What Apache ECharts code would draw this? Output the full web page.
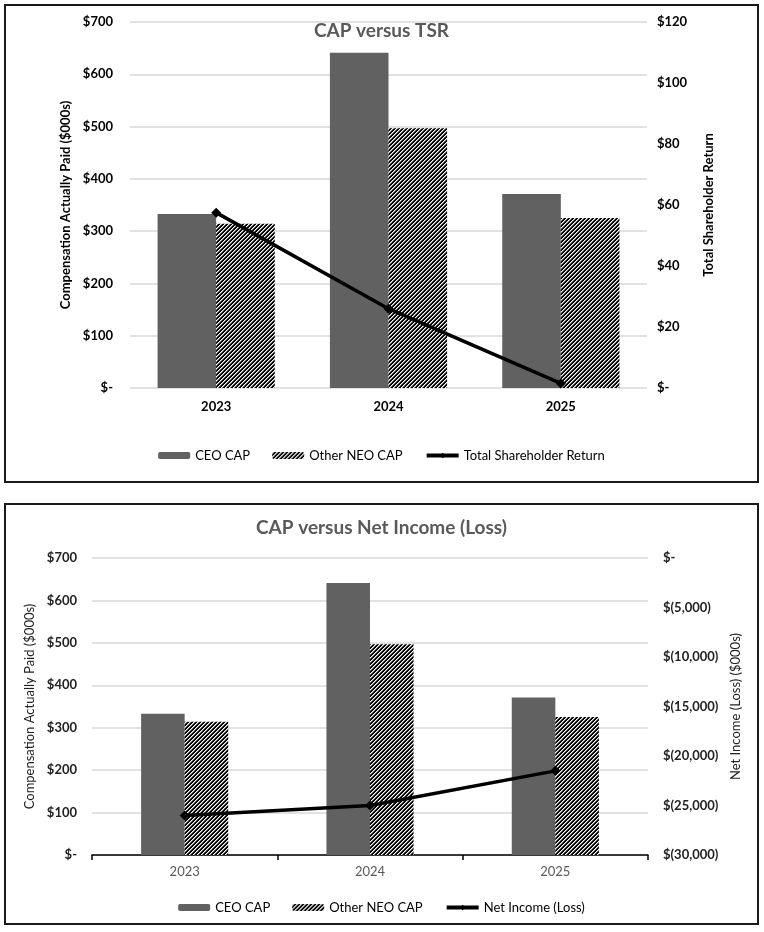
<!DOCTYPE html>
<html>
<head>
<meta charset="utf-8">
<script src="https://cdn.jsdelivr.net/npm/echarts@6/dist/echarts.min.js"></script>
<style>
  html, body { margin:0; padding:0; background:#fff; width:764px; height:932px; overflow:hidden; }
  .box { position:absolute; border:2px solid #1a1a1a; box-sizing:border-box; }
  .inner { position:absolute; left:0; top:0; right:0; bottom:0; }
</style>
</head>
<body>
<div class="box" style="left:4px; top:4px; width:755px; height:479px;"><div id="c1" class="inner"></div></div>
<div class="box" style="left:4px; top:503px; width:755px; height:422px;"><div id="c2" class="inner"></div></div>
<script>
// ---- data ----
const years = ['2023', '2024', '2025'];
const ceoCap = [333, 641, 371];
const otherNeoCap = [314, 497, 325];
const tsr = [57.5, 26, 1.5];
const netIncome = [-26000, -25000, -21500];
const capTicks = { min: 0, max: 700, interval: 100 };
const tsrTicks = { min: 0, max: 120, interval: 20 };
const niTicks = { min: -30000, max: 0, interval: 5000 };

const FONT = 'Lato, "Liberation Sans", sans-serif';

// hatch pattern
function makeHatch() {
  const c = document.createElement('canvas');
  c.width = 4; c.height = 4;
  const g = c.getContext('2d');
  g.fillStyle = '#ffffff'; g.fillRect(0, 0, 4, 4);
  for (let x = 0; x < 4; x++) for (let y = 0; y < 4; y++) {
    const k = (x + y) % 4;
    if (k === 2 || k === 3) { g.fillStyle = '#000000'; g.fillRect(x, y, 1, 1); }
    else if (k === 1) { g.fillStyle = '#8a8a8a'; g.fillRect(x, y, 1, 1); }
  }
  return c;
}
const hatch = { image: makeHatch(), repeat: 'repeat' };
const CEO_COLOR = '#616161';

function dollar(v) { return v === 0 ? '$-' : '$' + v; }
function paren(v) { return v === 0 ? '$-' : '$(' + Math.abs(v).toLocaleString('en-US') + ')'; }

// ---- chart 1 ----
const c1 = echarts.init(document.getElementById('c1'));
c1.setOption({
  animation: false,
  textStyle: { fontFamily: FONT },
  title: { text: 'CAP versus TSR', left: 'center', top: 15, padding: 0,
    textStyle: { fontFamily: FONT, fontSize: 19, fontWeight: 'bold', color: '#595959' } },
  grid: { left: 124, right: 110, top: 16, bottom: 93 },
  legend: { bottom: 14, left: 'center', itemWidth: 32, itemHeight: 7, itemGap: 22,
    textStyle: { fontFamily: FONT, fontSize: 13, color: '#000' },
    data: ['CEO CAP', 'Other NEO CAP',
      { name: 'Total Shareholder Return', lineStyle: { width: 4, color: '#000' } }] },
  xAxis: { type: 'category', data: years,
    axisLine: { show: false }, axisTick: { show: false },
    axisLabel: { margin: 12, fontFamily: FONT, fontSize: 13, fontWeight: 'bold', color: '#000' } },
  yAxis: [
    { type: 'value', min: capTicks.min, max: capTicks.max, interval: capTicks.interval,
      name: 'Compensation Actually Paid ($000s)', nameLocation: 'middle', nameGap: 52, nameRotate: 90,
      nameTextStyle: { fontFamily: FONT, fontSize: 13, fontWeight: 'bold', color: '#000' },
      axisLine: { show: false }, axisTick: { show: false },
      splitLine: { lineStyle: { color: '#d9d9d9', width: 1.5 } },
      axisLabel: { margin: 17, formatter: dollar, fontFamily: FONT, fontSize: 13, fontWeight: 'bold', color: '#000' } },
    { type: 'value', min: tsrTicks.min, max: tsrTicks.max, interval: tsrTicks.interval, position: 'right',
      name: 'Total Shareholder Return', nameLocation: 'middle', nameGap: 55, nameRotate: 90,
      nameTextStyle: { fontFamily: FONT, fontSize: 13, fontWeight: 'bold', color: '#000' },
      axisLine: { show: false }, axisTick: { show: false }, splitLine: { show: false },
      axisLabel: { margin: 10, formatter: dollar, fontFamily: FONT, fontSize: 13, fontWeight: 'bold', color: '#000' } }
  ],
  series: [
    { name: 'CEO CAP', type: 'bar', data: ceoCap, barGap: '0%', barCategoryGap: '32%',
      itemStyle: { color: CEO_COLOR } },
    { name: 'Other NEO CAP', type: 'bar', data: otherNeoCap, barGap: '0%', barCategoryGap: '32%',
      itemStyle: { color: hatch } },
    { name: 'Total Shareholder Return', type: 'line', yAxisIndex: 1, data: tsr, z: 5,
      symbol: 'diamond', symbolSize: 10,
      lineStyle: { color: '#000', width: 3.5 }, itemStyle: { color: '#000' } }
  ]
});

// ---- chart 2 ----
const c2 = echarts.init(document.getElementById('c2'));
c2.setOption({
  animation: false,
  textStyle: { fontFamily: FONT },
  title: { text: 'CAP versus Net Income (Loss)', left: 'center', top: 13, padding: 0,
    textStyle: { fontFamily: FONT, fontSize: 19, fontWeight: 'bold', color: '#595959' } },
  grid: { left: 86, right: 109, top: 53, bottom: 68 },
  legend: { top: 391, left: 'center', itemWidth: 32, itemHeight: 7, itemGap: 22,
    textStyle: { fontFamily: FONT, fontSize: 13, color: '#000' },
    data: ['CEO CAP', 'Other NEO CAP',
      { name: 'Net Income (Loss)', lineStyle: { width: 4, color: '#000' } }] },
  xAxis: { type: 'category', data: years,
    axisLine: { show: true, lineStyle: { color: '#000', width: 1.5 } },
    axisTick: { show: true, length: 5, lineStyle: { color: '#000', width: 1.5 } },
    axisLabel: { margin: 10, fontFamily: FONT, fontSize: 13, color: '#595959' } },
  yAxis: [
    { type: 'value', min: capTicks.min, max: capTicks.max, interval: capTicks.interval,
      name: 'Compensation Actually Paid ($000s)', nameLocation: 'middle', nameGap: 50, nameRotate: 90,
      nameTextStyle: { fontFamily: FONT, fontSize: 13, color: '#222' },
      axisLine: { show: false }, axisTick: { show: false },
      splitLine: { lineStyle: { color: '#d9d9d9', width: 1.5 } },
      axisLabel: { margin: 15, formatter: dollar, fontFamily: FONT, fontSize: 13, fontWeight: 'bold', color: '#222' } },
    { type: 'value', min: niTicks.min, max: niTicks.max, interval: niTicks.interval, position: 'right',
      name: 'Net Income (Loss) ($000s)', nameLocation: 'middle', nameGap: 69, nameRotate: 90,
      nameTextStyle: { fontFamily: FONT, fontSize: 13, color: '#222' },
      axisLine: { show: false }, axisTick: { show: false }, splitLine: { show: false },
      axisLabel: { margin: 15, formatter: paren, fontFamily: FONT, fontSize: 13, fontWeight: 'bold', color: '#222' } }
  ],
  series: [
    { name: 'CEO CAP', type: 'bar', data: ceoCap, barGap: '0%', barCategoryGap: '53%',
      itemStyle: { color: CEO_COLOR } },
    { name: 'Other NEO CAP', type: 'bar', data: otherNeoCap, barGap: '0%', barCategoryGap: '53%',
      itemStyle: { color: hatch } },
    { name: 'Net Income (Loss)', type: 'line', yAxisIndex: 1, data: netIncome, z: 5,
      symbol: 'diamond', symbolSize: 10,
      lineStyle: { color: '#000', width: 3.5 }, itemStyle: { color: '#000' } }
  ]
});
</script>
</body>
</html>
